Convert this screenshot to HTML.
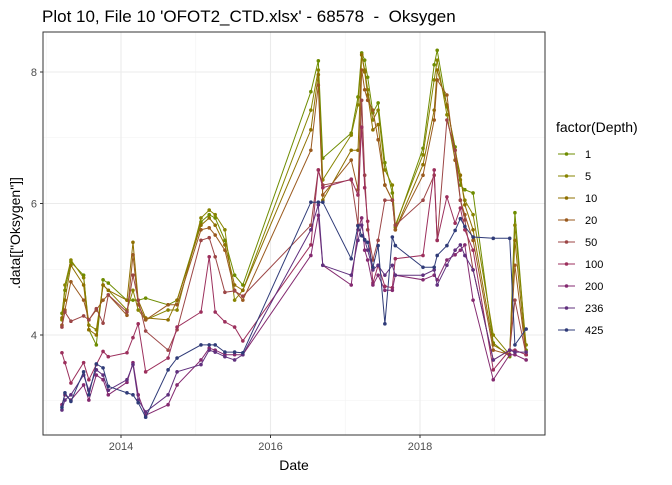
<!DOCTYPE html>
<html><head><meta charset="utf-8"><style>
body{margin:0;background:#fff;font-family:"Liberation Sans",Arial,sans-serif}
svg text{font-family:"Liberation Sans",Arial,sans-serif}
</style></head><body>
<svg id="chart" width="672" height="480">
<text x="42" y="22" font-size="17" fill="#000" style="white-space:pre" xml:space="preserve">Plot 10, File 10 'OFOT2_CTD.xlsx' - 68578  -  Oksygen</text>
<g id="grid"></g>
<g id="series"></g>
<rect x="43" y="32" width="502" height="403" fill="none" stroke="#333" stroke-width="1"/>
<g id="axes"></g>
<text x="294" y="470" font-size="14" text-anchor="middle">Date</text>
<text transform="translate(20,233) rotate(-90)" font-size="14" text-anchor="middle">.data[["Oksygen"]]</text>
<text x="556" y="132" font-size="14">factor(Depth)</text>
<g id="legend"></g>
</svg>
<script>
const dates=[13.21,13.25,13.33,13.50,13.57,13.67,13.76,13.83,14.08,14.16,14.23,14.33,14.63,14.75,15.07,15.18,15.26,15.39,15.52,15.63,16.54,16.64,16.70,17.08,17.17,17.22,17.26,17.30,17.37,17.44,17.53,17.63,17.67,18.04,18.19,18.23,18.36,18.47,18.54,18.60,18.71,18.98,19.20,19.27,19.42];
const depths=["1","5","10","20","50","100","200","236","425"];
const colors=["#6e8c00","#878400","#8f7000","#9a5a1e","#9c4646","#9c2f5c","#842a70","#60307e","#2f3b78"];
const s1=[4.33,4.68,5.11,4.91,4.08,3.85,4.84,4.79,4.53,4.53,4.53,4.56,4.46,4.53,5.72,5.83,5.78,5.44,4.91,4.76,7.70,8.17,6.69,7.07,7.62,8.29,8.18,7.92,7.38,7.53,6.62,6.16,5.64,6.84,8.11,8.33,7.47,6.86,6.28,6.21,6.16,3.88,3.67,5.86,3.77];
const s5=[4.23,4.76,5.14,4.87,4.15,4.08,4.76,4.68,4.38,4.68,4.38,4.23,4.38,4.38,5.78,5.90,5.83,5.60,4.53,4.68,7.42,8.03,6.36,7.04,7.50,8.26,8.03,7.73,7.27,7.42,6.51,6.28,5.67,6.74,7.88,8.18,7.35,6.66,6.36,6.05,5.83,4.00,3.70,5.67,3.85];
const s10=[4.26,4.53,5.06,4.76,4.08,4.00,4.76,4.68,4.53,5.41,4.53,4.26,4.23,4.53,5.67,5.78,5.67,5.37,4.76,4.68,7.12,7.96,6.05,6.81,6.81,8.26,8.00,7.65,7.12,7.20,6.28,6.05,5.60,6.59,7.42,8.03,7.50,6.81,6.43,5.98,5.60,3.85,3.70,5.44,3.70];
const s20=[4.15,4.38,4.81,4.53,4.23,4.38,4.53,4.61,4.30,5.22,4.46,4.23,4.46,4.46,5.60,5.63,5.52,5.29,4.68,4.53,6.81,7.80,6.13,6.66,6.21,8.03,7.73,7.57,7.42,6.97,6.28,6.05,5.60,6.43,7.27,7.88,7.65,6.66,6.05,5.83,5.44,3.77,3.70,5.06,3.70];
const s50=[4.12,4.35,4.21,4.29,4.23,4.40,4.18,4.61,4.35,4.91,4.53,4.06,3.77,4.08,5.44,5.48,5.19,4.65,4.67,4.59,5.67,6.51,6.28,6.36,5.67,7.57,6.43,5.60,5.14,5.44,6.05,6.05,5.67,6.05,6.43,5.44,7.27,6.81,6.05,5.75,4.99,3.62,3.77,4.53,3.70];
const s100=[3.73,3.58,3.27,3.58,3.32,3.55,3.75,3.67,3.73,3.96,4.17,3.44,3.65,4.12,4.35,5.19,4.35,4.20,4.12,3.91,5.37,6.51,6.24,6.37,6.13,7.16,6.24,5.73,4.79,5.06,4.74,4.72,5.16,5.21,6.51,5.44,6.10,5.70,5.93,5.60,5.29,3.47,3.77,3.77,3.70];
const s200=[2.94,3.09,3.01,3.24,3.01,3.39,3.32,3.09,3.28,3.58,3.09,2.78,2.94,3.24,3.62,3.80,3.77,3.70,3.70,3.70,5.21,5.82,5.06,4.76,5.60,5.78,5.29,5.14,4.76,4.91,4.68,4.68,4.91,4.84,4.91,4.84,5.14,5.22,5.29,5.37,4.53,3.32,3.70,3.70,3.62];
const s236=[2.86,3.01,3.09,3.39,3.16,3.47,3.39,3.16,3.32,3.55,3.01,2.83,3.09,3.44,3.55,3.77,3.74,3.67,3.62,3.70,5.60,5.98,5.06,4.91,5.44,5.67,5.44,5.29,4.99,5.06,4.91,5.06,4.91,4.91,4.99,4.76,5.06,5.29,5.37,5.21,4.99,3.62,3.77,3.74,3.74];
const s425=[2.90,3.12,2.99,3.44,3.09,3.56,3.50,3.22,3.12,3.09,2.97,2.75,3.47,3.65,3.85,3.85,3.85,3.74,3.74,3.73,6.02,6.02,6.02,5.16,5.66,5.51,5.45,5.41,5.03,5.36,4.17,5.49,5.36,5.03,5.03,5.21,5.36,5.59,5.77,5.65,5.49,5.47,5.47,3.85,4.09];
const seriesValues=[s1,s5,s10,s20,s50,s100,s200,s236,s425];
const xMajor=[2014,2016,2018];
const xMinor=[2013,2015,2017,2019];
const yMajor=[4,6,8];
const yMinor=[3,5,7];
const NS="http://www.w3.org/2000/svg";
function X(year){return 121+(year-2014)*74.75;}
function Y(v){return 72+(8-v)*65.75;}
function mk(tag,attrs,parent){const e=document.createElementNS(NS,tag);for(const k in attrs)e.setAttribute(k,attrs[k]);parent.appendChild(e);return e;}
const grid=document.getElementById('grid'),axes=document.getElementById('axes'),ser=document.getElementById('series'),leg=document.getElementById('legend');
mk('rect',{x:43,y:32,width:502,height:403,fill:'#fff'},grid);
xMinor.forEach(t=>{const x=X(t);if(x>43&&x<545){const l=mk('line',{x1:x,x2:x,y1:32,y2:435,stroke:'#f2f2f2','stroke-width':0.6},grid);

}});
yMinor.forEach(t=>{const y=Y(t);const l=mk('line',{x1:43,x2:545,y1:y,y2:y,stroke:'#f2f2f2','stroke-width':0.6},grid);

});
xMajor.forEach(t=>{const x=X(t);const l=mk('line',{x1:x,x2:x,y1:32,y2:435,stroke:'#ebebeb','stroke-width':1.1},grid);


mk('line',{x1:x,x2:x,y1:435,y2:438,stroke:'#333'},axes);
const tx=mk('text',{x:x,y:450,'font-size':11,fill:'#4d4d4d','text-anchor':'middle'},axes);tx.textContent=t;

});
yMajor.forEach(t=>{const y=Y(t);const l=mk('line',{x1:43,x2:545,y1:y,y2:y,stroke:'#ebebeb','stroke-width':1.1},grid);


mk('line',{x1:40,x2:43,y1:y,y2:y,stroke:'#333'},axes);
const tx=mk('text',{x:37,y:y+4,'font-size':11,fill:'#4d4d4d','text-anchor':'end'},axes);tx.textContent=t;

});
seriesValues.forEach((vals,i)=>{
 const g=mk('g',{},ser);
 
 
 const pts=vals.map((v,j)=>X(2000+dates[j]).toFixed(1)+','+Y(v).toFixed(1)).join(' ');
 const pl=mk('polyline',{points:pts,fill:'none',stroke:colors[i],'stroke-width':1},g);
 
 
 vals.forEach((v,j)=>{const c=mk('circle',{cx:X(2000+dates[j]),cy:Y(v),r:1.8,fill:colors[i]},g);
 
 });
 const ly=154+i*22;
 const lg=mk('g',{},leg);
 
 
 mk('line',{x1:558,x2:575,y1:ly,y2:ly,stroke:colors[i],'stroke-width':1},lg);
 mk('circle',{cx:566.5,cy:ly,r:1.8,fill:colors[i]},lg);
 const t=mk('text',{x:585,y:ly+4,'font-size':11,fill:'#000'},lg);t.textContent=depths[i];
});
</script>
</body></html>
